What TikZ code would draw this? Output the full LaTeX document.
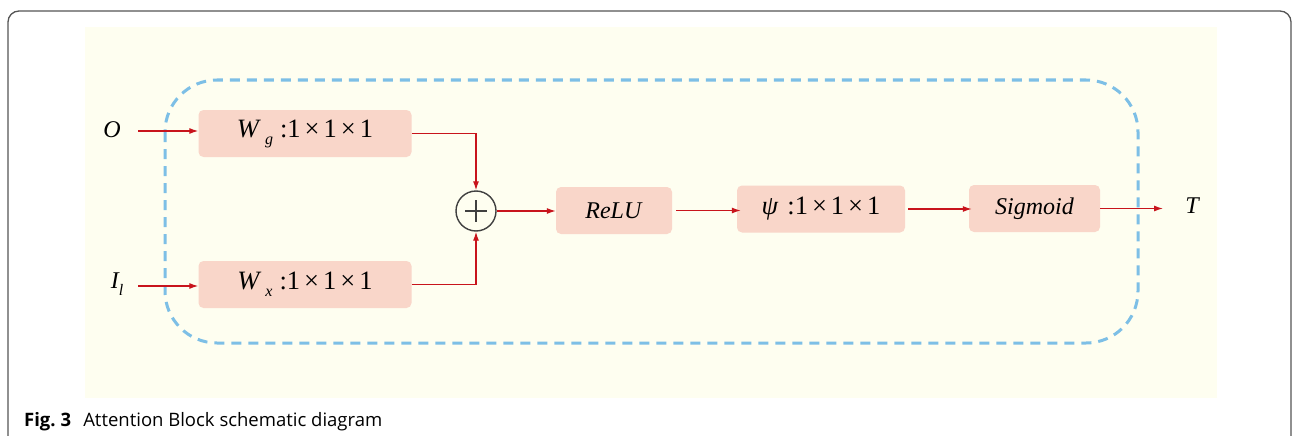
\documentclass[tikz,border=0pt]{standalone}
\usepackage{fontspec}
\setmainfont{Liberation Serif}
\newfontfamily\capfont{Open Sans}
\usetikzlibrary{arrows.meta,calc}
\definecolor{cream}{HTML}{FEFEF0}
\definecolor{boxfill}{HTML}{F9D6C9}
\definecolor{dashblue}{HTML}{7DBFE6}
\definecolor{flowred}{HTML}{C8141C}
\definecolor{framegray}{HTML}{555555}
\tikzset{
  opbox/.style={fill=boxfill, rounded corners=5pt, minimum height=47pt, inner sep=0pt,
    font=\fontsize{24}{28}\selectfont},
  numtext/.style={font=\fontsize{26.5}{28}\selectfont},
  flow/.style={draw=flowred, line width=1.2pt, -{Latex[length=9pt,width=6pt]}},
  lbl/.style={font=\fontsize{24}{28}\selectfont\itshape, inner sep=0pt},
}
\newcommand{\sbs}[1]{\raisebox{-7pt}{\fontsize{16}{16}\selectfont\itshape #1}}
\newcommand{\tms}{\hspace{4pt}×\hspace{4pt}}
\begin{document}
\begin{tikzpicture}[x=1pt,y=-1pt]
\useasboundingbox (0,0) rectangle (1293,436);
\fill[white] (0,0) rectangle (1293,436);
% outer frame
\begin{scope}
\clip (0,0) rectangle (1293,436);
\draw[framegray, line width=1.3pt, rounded corners=11pt] (8,11) rectangle (1291,460);
\end{scope}
% panel background
\fill[cream] (85,27) rectangle (1217,398);
% dashed enclosure
\draw[dashblue, line width=3pt, dash pattern=on 10pt off 7pt, rounded corners=52pt]
  (165,80) rectangle (1138,343);
% operation boxes
\node[opbox, numtext, minimum width=213pt] (wg) at (305,133.5) {\textit{W}\hspace{4pt}\sbs{g}\hspace{7pt}:1\tms1\tms1};
\node[opbox, numtext, minimum width=213pt] (wx) at (305,284.5) {\textit{W}\hspace{4pt}\sbs{x}\hspace{7pt}:1\tms1\tms1};
\node[draw=black!75, line width=1.4pt, circle, minimum size=40pt, inner sep=0pt] (sum) at (476,211) {};
\draw[black!75, line width=1.6pt] ($(sum.center)+(-11,0)$) -- ($(sum.center)+(11,0)$)
  ($(sum.center)+(0,-11)$) -- ($(sum.center)+(0,11)$);
\node[opbox, minimum width=116pt] (relu) at (614,210.5) {\textit{ReLU}};
\node[opbox, numtext, minimum width=168pt] (psi) at (821,209) {\textit{ψ}\hspace{9pt}:1\tms1\tms1};
\node[opbox, minimum width=131pt] (sig) at (1034.5,208.5) {\textit{Sigmoid}};
% inputs and output labels
\node[lbl] (o) at (112,130) {O};
\node[lbl] (il) at (117,284) {I\sbs{l}};
\node[lbl] (t) at (1192,206) {T};
\coordinate (oin) at (138,131);
\coordinate (iin) at (138,286);
\coordinate (tout) at (1163,209);
% connectors
\draw[flow] (oin) -- (oin -| wg.west);
\draw[flow] (iin) -- (iin -| wx.west);
\draw[flow] (wg.east) -| (sum.north);
\draw[flow] (wx.east) -| (sum.south);
\draw[flow] (sum.east) -- (sum.east -| relu.west);
\draw[flow] ([xshift=4pt]relu.east) -- ([xshift=4pt]relu.east -| psi.west);
\draw[flow] ([xshift=3pt]psi.east) -- ([xshift=3pt]psi.east -| sig.west);
\draw[flow] (sig.east) -- (sig.east -| tout);
% caption
\node[anchor=base west, inner sep=0pt, font=\capfont\fontsize{18.5}{22}\selectfont] (cap) at (24,426)
  {\textbf{Fig.\hspace{5pt}3}\hspace{12pt}Attention Block schematic diagram};
\end{tikzpicture}
\end{document}
